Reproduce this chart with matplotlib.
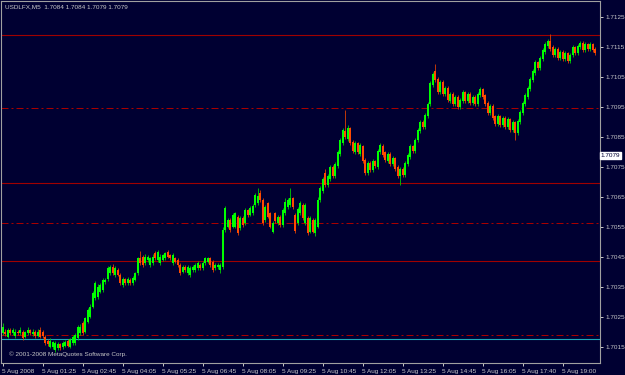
#!/usr/bin/env python3

import matplotlib
matplotlib.use('Agg')
import matplotlib.pyplot as plt
import numpy as np

# price data in pips above 1.7000, one M5 bar per entry
BASE = 1.7000
opens = [
    19.7, 20.3, 18.6, 20.8, 19.7, 18.9, 20.3, 19.7, 20.3, 18.6,
    19.7, 20.8, 19.4, 20.3, 18.9, 20.8, 20.3, 18.6, 17.2, 15.3,
    15.3, 14.2, 14.7, 16.1, 15.0, 15.6, 17.2, 15.3, 16.4, 16.4,
    18.1, 19.7, 23.1, 20.3, 23.6, 25.3, 28.6, 31.4, 31.9, 33.6,
    34.2, 36.9, 37.8, 39.7, 41.9, 39.2, 40.8, 39.2, 35.8, 37.8,
    36.4, 37.5, 36.4, 37.5, 39.7, 44.7, 45.3, 43.1, 44.2, 42.5,
    43.1, 46.4, 44.2, 43.1, 44.2, 44.7, 46.9, 45.8, 43.1, 44.7,
    44.2, 42.5, 40.3, 41.9, 39.7, 39.2, 40.8, 40.8, 41.4, 42.5,
    41.4, 43.1, 43.6, 44.7, 43.6, 41.4, 41.9, 40.8, 41.8, 54.2,
    55.3, 57.5, 55.3, 55.3, 58.6, 54.7, 58.1, 56.4, 60.8, 59.2,
    59.7, 62.5, 63.0, 66.5, 64.2, 57.5, 63.0, 59.7, 53.6, 59.7,
    56.4, 58.6, 55.9, 59.7, 61.9, 62.5, 64.7, 59.2, 56.4, 59.7,
    62.5, 56.4, 58.1, 53.6, 57.5, 53.1, 55.3, 64.0, 67.0, 73.0,
    69.0, 71.0, 75.0, 72.0, 75.5, 79.5, 83.0, 87.0, 84.5, 88.0,
    83.5, 80.0, 83.0, 79.5, 82.0, 77.5, 73.0, 76.5, 74.0, 77.0,
    75.0, 80.0, 82.0, 80.0, 77.0, 79.5, 76.0, 78.0, 75.0, 72.0,
    74.5, 72.5, 76.0, 78.5, 82.0, 80.5, 84.0, 87.0, 90.0, 88.5,
    92.0, 96.0, 102.5, 107.0, 104.5, 100.0, 103.5, 99.5, 101.5, 97.0,
    99.5, 96.0, 98.5, 95.0, 97.0, 100.0, 97.0, 99.5, 96.5, 98.5,
    96.0, 99.0, 101.0, 99.0, 96.5, 93.0, 95.5, 92.0, 89.5, 92.0,
    89.0, 91.5, 88.5, 91.0, 87.5, 90.0, 86.5, 90.0, 93.0, 96.0,
    98.5, 101.0, 104.0, 106.5, 110.0, 108.0, 111.0, 113.5, 115.5, 117.0,
    115.0, 112.5, 114.5, 111.5, 113.5, 111.0, 113.0, 110.5, 112.5, 115.0,
    113.0, 115.0, 116.5, 114.0, 116.0, 114.5, 116.0, 114.5,
]
closes = [
    21.9, 19.4, 20.8, 19.7, 20.8, 20.3, 19.7, 20.8, 18.1, 20.0,
    20.8, 19.7, 20.3, 18.9, 20.3, 18.6, 18.9, 16.4, 16.1, 17.2,
    16.7, 16.4, 16.1, 14.7, 16.4, 16.9, 15.6, 17.8, 18.6, 19.2,
    21.9, 21.9, 19.7, 24.7, 27.5, 28.6, 33.1, 36.4, 35.3, 35.8,
    37.5, 37.5, 41.4, 41.9, 39.7, 41.4, 39.2, 36.4, 37.8, 36.4,
    37.8, 36.4, 38.0, 39.7, 44.7, 43.1, 42.5, 45.3, 45.3, 44.7,
    45.3, 44.7, 46.9, 45.3, 45.8, 46.4, 45.3, 44.7, 45.8, 43.6,
    42.5, 39.7, 41.9, 40.8, 41.9, 41.4, 41.9, 42.5, 43.1, 41.4,
    43.1, 44.7, 44.7, 42.5, 40.8, 42.5, 42.5, 42.5, 54.2, 61.4,
    57.5, 54.2, 59.0, 59.7, 53.1, 58.1, 55.9, 60.8, 59.2, 61.4,
    62.0, 65.8, 65.5, 64.2, 56.4, 61.9, 58.6, 55.3, 56.4, 57.0,
    58.6, 55.9, 60.8, 63.6, 64.2, 64.7, 61.9, 53.9, 61.0, 63.0,
    58.1, 62.5, 53.1, 58.1, 53.6, 57.5, 64.2, 68.0, 71.0, 69.0,
    72.0, 75.0, 72.0, 76.0, 80.0, 84.0, 87.5, 85.0, 88.0, 83.0,
    80.5, 83.0, 80.0, 82.5, 77.0, 73.0, 76.5, 74.0, 77.0, 75.5,
    80.5, 82.5, 79.0, 77.5, 79.5, 76.0, 78.0, 74.5, 72.0, 74.5,
    72.5, 76.5, 79.0, 82.0, 80.5, 84.0, 87.5, 90.0, 88.5, 92.5,
    96.0, 103.0, 106.0, 104.0, 100.0, 103.5, 99.5, 101.5, 97.5, 99.5,
    96.0, 98.5, 95.0, 97.5, 100.0, 97.0, 99.5, 96.5, 98.5, 96.0,
    99.5, 101.0, 98.5, 96.0, 93.0, 95.5, 91.5, 89.5, 92.0, 89.0,
    91.5, 88.5, 91.0, 87.5, 90.0, 86.5, 90.5, 93.5, 96.5, 99.0,
    101.5, 104.5, 107.0, 110.0, 108.0, 111.5, 114.0, 116.0, 117.0, 114.5,
    112.5, 114.5, 111.5, 113.5, 111.0, 113.0, 110.5, 112.5, 115.0, 113.0,
    115.5, 116.5, 114.0, 116.0, 114.5, 116.0, 114.0, 113.0,
]
highs = [
    23.0, 21.0, 21.5, 21.4, 21.6, 21.0, 20.9, 21.7, 20.8, 20.6,
    21.8, 21.3, 21.0, 20.8, 21.1, 21.9, 20.9, 19.2, 17.8, 18.0,
    17.3, 17.0, 16.9, 16.6, 17.1, 17.4, 17.9, 18.3, 19.3, 19.8,
    22.6, 22.8, 23.8, 25.3, 28.0, 29.5, 33.8, 37.0, 36.2, 36.5,
    38.1, 38.3, 42.0, 42.5, 42.8, 42.0, 41.5, 39.8, 38.6, 38.3,
    38.5, 38.0, 38.7, 40.3, 45.3, 47.0, 45.9, 46.0, 45.8, 45.3,
    46.0, 47.0, 47.5, 46.0, 46.3, 46.9, 47.4, 46.3, 46.5, 45.2,
    44.9, 43.0, 42.5, 42.4, 42.6, 42.0, 42.4, 43.0, 43.7, 43.0,
    43.8, 45.3, 45.2, 45.3, 44.1, 43.1, 43.0, 43.1, 55.0, 62.0,
    58.2, 58.0, 59.8, 60.3, 59.2, 58.8, 58.7, 61.5, 61.3, 62.0,
    62.8, 66.4, 68.2, 67.5, 64.8, 62.6, 63.6, 60.3, 57.0, 60.3,
    59.2, 59.3, 61.4, 64.7, 64.9, 68.2, 65.3, 59.8, 61.7, 63.8,
    63.1, 63.2, 58.8, 58.7, 58.2, 58.1, 65.0, 68.8, 71.8, 74.5,
    72.8, 75.7, 75.8, 76.8, 80.7, 84.8, 88.3, 94.0, 89.0, 88.6,
    84.2, 83.8, 83.6, 83.2, 82.6, 78.2, 77.3, 77.1, 77.7, 77.6,
    81.2, 83.3, 82.7, 80.6, 80.2, 80.1, 78.7, 78.6, 75.7, 75.2,
    75.1, 77.2, 79.7, 82.8, 82.6, 84.7, 88.2, 90.8, 90.7, 93.2,
    96.8, 103.8, 106.8, 109.5, 105.2, 104.2, 104.1, 102.2, 102.1, 100.2,
    100.1, 99.2, 99.1, 98.2, 100.7, 100.6, 100.2, 100.1, 99.2, 99.1,
    100.2, 101.8, 101.6, 99.6, 97.1, 96.2, 96.1, 92.6, 92.7, 92.6,
    92.2, 92.1, 91.7, 91.6, 90.7, 90.6, 91.2, 94.2, 97.2, 99.7,
    102.2, 105.2, 107.7, 110.8, 110.6, 112.2, 114.7, 116.8, 117.8, 119.5,
    115.7, 115.2, 115.1, 114.2, 114.1, 113.7, 113.6, 113.2, 115.7, 115.6,
    116.2, 117.3, 117.1, 116.7, 116.6, 116.7, 116.6, 115.1,
]
lows = [
    19.1, 18.8, 18.0, 19.1, 19.2, 18.3, 19.1, 19.2, 17.5, 18.0,
    19.1, 19.2, 18.8, 18.3, 18.4, 18.0, 18.3, 15.8, 15.5, 14.7,
    14.6, 13.6, 14.0, 14.1, 14.4, 15.0, 15.1, 14.7, 15.9, 15.8,
    17.5, 19.1, 19.2, 19.7, 23.0, 24.7, 28.0, 30.8, 31.3, 33.0,
    33.6, 36.3, 37.2, 39.1, 39.1, 38.6, 38.7, 35.8, 35.2, 35.9,
    35.8, 35.9, 35.8, 37.0, 39.2, 42.5, 41.9, 42.6, 43.6, 41.9,
    42.5, 44.1, 43.6, 42.5, 43.7, 44.1, 44.8, 44.1, 42.5, 43.1,
    41.9, 39.1, 39.7, 40.2, 39.1, 38.6, 40.2, 40.3, 40.8, 40.9,
    40.8, 42.5, 43.1, 41.9, 40.2, 40.8, 41.3, 39.7, 41.2, 53.6,
    54.7, 53.6, 54.7, 54.8, 52.5, 54.1, 55.3, 55.8, 58.6, 58.7,
    59.1, 61.9, 62.4, 63.6, 55.8, 56.9, 58.0, 54.7, 53.0, 56.4,
    55.8, 55.3, 55.3, 59.1, 61.3, 61.9, 61.3, 53.3, 55.8, 59.1,
    57.5, 55.8, 52.5, 53.0, 53.0, 52.0, 54.7, 63.4, 66.4, 68.4,
    68.4, 70.4, 71.4, 71.4, 74.9, 78.9, 82.4, 84.4, 83.9, 82.4,
    79.9, 79.4, 79.4, 78.9, 76.4, 72.4, 72.4, 73.4, 73.4, 74.9,
    74.4, 79.4, 78.4, 76.9, 76.4, 75.4, 75.4, 73.9, 71.4, 69.0,
    71.9, 71.9, 75.4, 77.9, 79.9, 79.9, 83.4, 86.4, 87.9, 87.9,
    91.4, 95.4, 101.9, 103.4, 99.4, 99.4, 98.9, 98.9, 96.9, 96.4,
    95.4, 95.4, 94.4, 94.4, 96.4, 96.4, 96.4, 95.9, 95.9, 95.4,
    95.4, 98.4, 97.9, 95.4, 92.4, 92.4, 90.9, 88.9, 88.9, 88.4,
    88.4, 87.9, 87.9, 86.9, 86.9, 84.0, 85.9, 89.4, 92.4, 95.4,
    97.9, 100.4, 103.4, 105.9, 107.4, 107.4, 110.4, 112.9, 114.9, 113.9,
    111.9, 111.9, 110.9, 110.9, 110.4, 110.4, 109.9, 109.9, 111.9, 112.4,
    112.4, 114.4, 113.4, 113.4, 113.9, 113.9, 113.4, 112.4,
]

price_ticks = [15, 25, 35, 45, 55, 65, 75, 85, 95, 105, 115, 125]
time_tick_bars = [0, 16, 32, 48, 64, 80, 96, 112, 128, 144, 160, 176, 192, 208, 224]
time_labels = ['5 Aug 2008', '5 Aug 01:25', '5 Aug 02:45', '5 Aug 04:05', '5 Aug 05:25',
               '5 Aug 06:45', '5 Aug 08:05', '5 Aug 09:25', '5 Aug 10:45', '5 Aug 12:05',
               '5 Aug 13:25', '5 Aug 14:45', '5 Aug 16:05', '5 Aug 17:40', '5 Aug 19:00']

solid_levels = [119.2, 69.8, 43.8]
dashdot_levels = [94.8, 56.5, 19.2]
cyan_level = 17.8
last_price = 79.0

header = 'USDLFX,M5  1.7084 1.7084 1.7079 1.7079'
copyright = '\u00a9 2001-2008 MetaQuotes Software Corp.'

bg = '#000032'
fg = '#c8c8c8'
bull = '#00ff00'
bear = '#ff4a00'

plt.rcParams['font.family'] = ['Liberation Sans', 'DejaVu Sans']

fig = plt.figure(figsize=(6.25, 3.75), dpi=100, facecolor=bg)
ax = fig.add_axes([1/625, 12/375, 599/625, 362/375])
ax.set_facecolor(bg)

o = np.array(opens)
c = np.array(closes)
h = np.array(highs)
l = np.array(lows)
x = np.arange(len(o))

# horizontal objects drawn behind the bars
for lev in solid_levels:
    ax.axhline(lev, color='#a00000', lw=0.8, zorder=1)
for lev in dashdot_levels:
    ax.axhline(lev, color='#a80000', lw=0.72, linestyle=(0, (7, 3, 2, 3)), zorder=1)
ax.axhline(cyan_level, color='#20a8b8', lw=0.8, zorder=1)

up = c >= o
colors = np.where(up, bull, bear)
wick_colors = np.where(up, '#00d000', '#e04000')

ax.vlines(x, l, h, colors=wick_colors, lw=0.6, zorder=2)
bottoms = np.minimum(o, c)
heights = np.maximum(np.abs(c - o), 0.35)
ax.bar(x, heights, bottom=bottoms, width=0.8, color=colors, linewidth=0, zorder=3)

ax.set_xlim(-0.6, 239)
ax.set_ylim(9.83, 130.5)

for s in ax.spines.values():
    s.set_color('#a0a0a0')
    s.set_linewidth(0.8)

ax.yaxis.tick_right()
ax.set_yticks(price_ticks)
ax.set_yticklabels([f'{BASE + p / 10000:.4f}' for p in price_ticks])
ax.tick_params(axis='y', colors=fg, labelcolor=fg, length=2, width=0.7, pad=2, labelsize=4.6)

ax.set_xticks(time_tick_bars)
ax.set_xticklabels(time_labels, ha='left')
ax.tick_params(axis='x', colors=fg, labelcolor=fg, length=2, width=0.7, pad=2.5, labelsize=4.6)

# current price marker on the scale
ax.text(1.0015, last_price, f'{BASE + last_price / 10000:.4f}', transform=ax.get_yaxis_transform(),
        ha='left', va='center', fontsize=4.6, color='#000032', zorder=5, clip_on=False,
        bbox=dict(boxstyle='square,pad=0.15', facecolor='white', edgecolor='white'))

fig.text(5/625, 1 - 7/375, header, color=fg, fontsize=4.6, ha='left', va='center')
ax.text(8/599, 9/362, copyright, transform=ax.transAxes, color=fg, fontsize=4.6, ha='left', va='center')

fig.savefig('out.png', dpi=100, facecolor=bg)
